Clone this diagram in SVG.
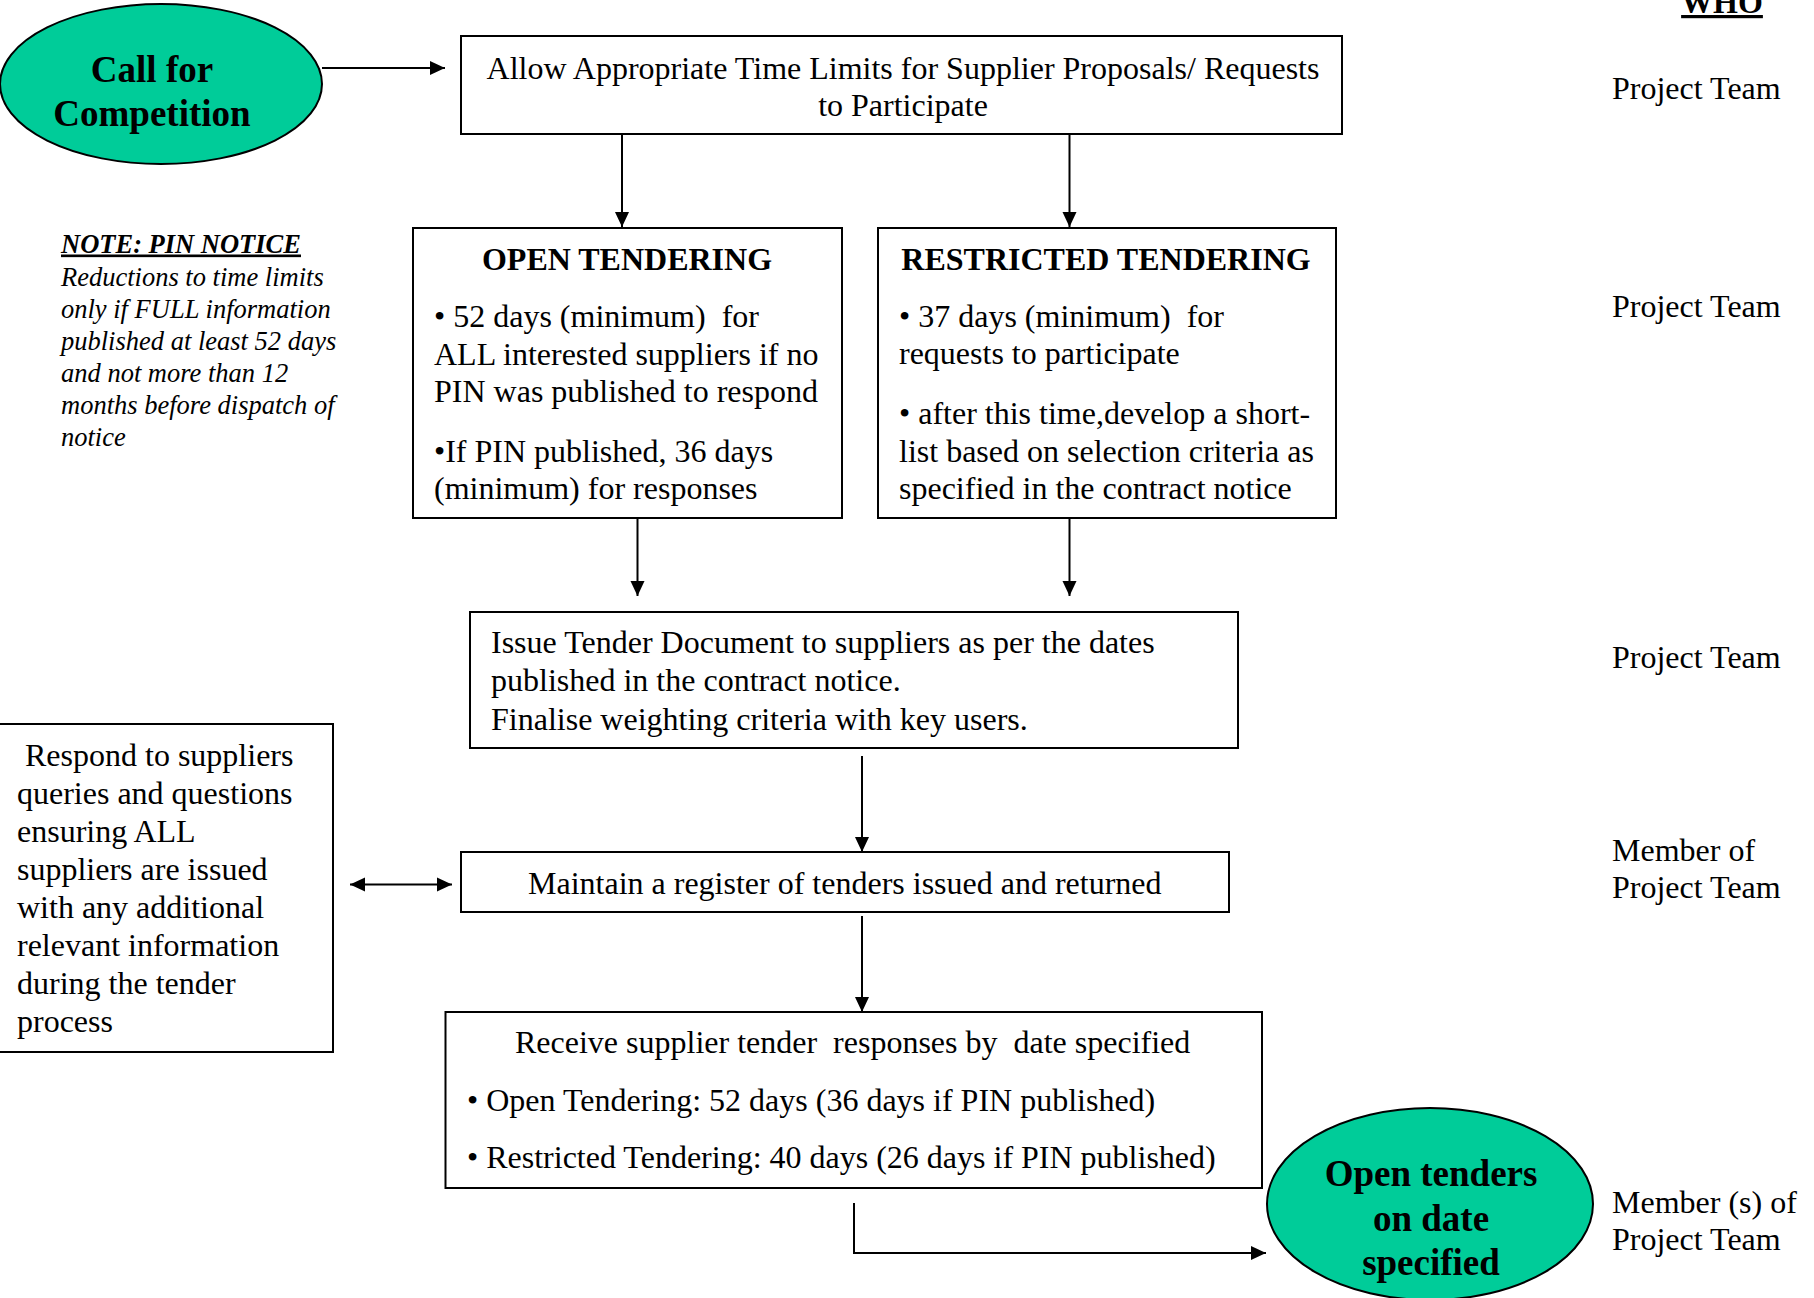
<svg xmlns="http://www.w3.org/2000/svg" width="1814" height="1298" viewBox="0 0 1814 1298">
<style>
text{font-family:"Liberation Serif","Times New Roman",serif;fill:#000}
.t{font-size:32px}
.b{font-size:32px;font-weight:bold}
.big{font-size:37px;font-weight:bold}
.n{font-size:26.5px;font-style:italic}
.box{fill:#fff;stroke:#000;stroke-width:2}
.ell{fill:#00CC99;stroke:#000;stroke-width:2}
.c{fill:none;stroke:#000;stroke-width:2}
.m{text-anchor:middle}
</style>
<defs>
<marker id="ah" markerUnits="userSpaceOnUse" markerWidth="16" markerHeight="16" viewBox="0 0 16 16" refX="15" refY="8" orient="auto-start-reverse">
<path d="M0,1 L15,8 L0,15 Z" fill="#000"/>
</marker>
</defs>
<rect width="1814" height="1298" fill="#fff"/>

<g id="connectors">
<line class="c" x1="322" y1="68" x2="445" y2="68" marker-end="url(#ah)"/>
<line class="c" x1="622" y1="134" x2="622" y2="227" marker-end="url(#ah)"/>
<line class="c" x1="1069.5" y1="134" x2="1069.5" y2="227" marker-end="url(#ah)"/>
<line class="c" x1="637.5" y1="518" x2="637.5" y2="596" marker-end="url(#ah)"/>
<line class="c" x1="1069.5" y1="518" x2="1069.5" y2="596" marker-end="url(#ah)"/>
<line class="c" x1="862" y1="756" x2="862" y2="852" marker-end="url(#ah)"/>
<line class="c" x1="862" y1="916" x2="862" y2="1012" marker-end="url(#ah)"/>
<line class="c" x1="350" y1="884.5" x2="452" y2="884.5" marker-start="url(#ah)" marker-end="url(#ah)"/>
<polyline class="c" points="854,1203 854,1253 1266,1253" marker-end="url(#ah)"/>
</g>

<g id="call-for-competition">
<ellipse class="ell" cx="161" cy="84" rx="161" ry="80"/>
<text class="big m" x="152" y="81.5">Call for</text>
<text class="big m" x="152" y="126">Competition</text>
</g>

<g id="allow-time-limits">
<rect class="box" x="461" y="36" width="881" height="98"/>
<text class="t m" x="903" y="78.5">Allow Appropriate Time Limits for Supplier Proposals/ Requests</text>
<text class="t m" x="903" y="116">to Participate</text>
</g>

<g id="pin-note">
<text class="n" x="61" y="252.5" font-weight="bold" text-decoration="underline">NOTE: PIN NOTICE</text>
<text class="n" x="61" y="285.6">Reductions to time limits</text>
<text class="n" x="61" y="318">only if FULL information</text>
<text class="n" x="61" y="350">published at least 52 days</text>
<text class="n" x="61" y="381.6">and not more than 12</text>
<text class="n" x="61" y="414">months before dispatch of</text>
<text class="n" x="61" y="446">notice</text>
</g>

<g id="open-tendering">
<rect class="box" x="413" y="228" width="429" height="290"/>
<text class="b m" x="627" y="270">OPEN TENDERING</text>
<text class="t" x="434" y="327" xml:space="preserve">• 52 days (minimum)  for</text>
<text class="t" x="434" y="365">ALL interested suppliers if no</text>
<text class="t" x="434" y="402">PIN was published to respond</text>
<text class="t" x="434" y="461.5">•If PIN published, 36 days</text>
<text class="t" x="434" y="498.7">(minimum) for responses</text>
</g>

<g id="restricted-tendering">
<rect class="box" x="878" y="228" width="458" height="290"/>
<text class="b m" x="1106" y="270">RESTRICTED TENDERING</text>
<text class="t" x="899" y="327" xml:space="preserve">• 37 days (minimum)  for</text>
<text class="t" x="899" y="364">requests to participate</text>
<text class="t" x="899" y="424">• after this time,develop a short-</text>
<text class="t" x="899" y="461.5">list based on selection criteria as</text>
<text class="t" x="899" y="498.7">specified in the contract notice</text>
</g>

<g id="issue-tender">
<rect class="box" x="470" y="612" width="768" height="136"/>
<text class="t" x="491" y="653">Issue Tender Document to suppliers as per the dates</text>
<text class="t" x="491" y="691">published in the contract notice.</text>
<text class="t" x="491" y="730">Finalise weighting criteria with key users.</text>
</g>

<g id="respond-queries">
<rect class="box" x="-2" y="724" width="335" height="328"/>
<text class="t" x="17" y="766" xml:space="preserve"> Respond to suppliers</text>
<text class="t" x="17" y="804">queries and questions</text>
<text class="t" x="17" y="842">ensuring ALL</text>
<text class="t" x="17" y="880">suppliers are issued</text>
<text class="t" x="17" y="918">with any additional</text>
<text class="t" x="17" y="956">relevant information</text>
<text class="t" x="17" y="994">during the tender</text>
<text class="t" x="17" y="1032">process</text>
</g>

<g id="maintain-register">
<rect class="box" x="461" y="852" width="768" height="60"/>
<text class="t" x="528" y="894">Maintain a register of tenders issued and returned</text>
</g>

<g id="receive-responses">
<rect class="box" x="445.5" y="1012" width="816.5" height="176"/>
<text class="t" x="515" y="1053" xml:space="preserve">Receive supplier tender  responses by  date specified</text>
<text class="t" x="467" y="1111">• Open Tendering: 52 days (36 days if PIN published)</text>
<text class="t" x="467" y="1168">• Restricted Tendering: 40 days (26 days if PIN published)</text>
</g>

<g id="open-tenders">
<ellipse class="ell" cx="1430" cy="1204" rx="163" ry="96"/>
<text class="big m" x="1431" y="1186">Open tenders</text>
<text class="big m" x="1431" y="1230.5">on date</text>
<text class="big m" x="1431" y="1275">specified</text>
</g>

<g id="who-column">
<text class="b m" x="1722" y="13" text-decoration="underline">WHO</text>
<text class="t" x="1612" y="99">Project Team</text>
<text class="t" x="1612" y="317">Project Team</text>
<text class="t" x="1612" y="668">Project Team</text>
<text class="t" x="1612" y="861">Member of</text>
<text class="t" x="1612" y="898">Project Team</text>
<text class="t" x="1612" y="1213">Member (s) of</text>
<text class="t" x="1612" y="1250">Project Team</text>
</g>
</svg>
